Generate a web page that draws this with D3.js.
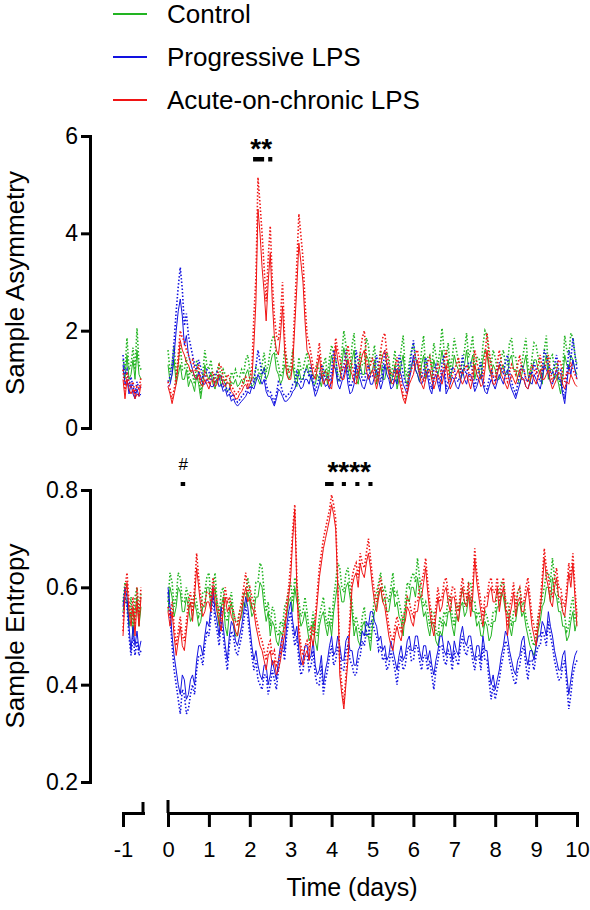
<!DOCTYPE html>
<html><head><meta charset="utf-8">
<script src="https://cdn.jsdelivr.net/npm/d3@7"></script>
<style>
body{margin:0;background:#fff}
svg{display:block}
text{font-family:"Liberation Sans",Arial,Helvetica,sans-serif;fill:#000}
</style>
</head><body>
<svg id="chart" width="590" height="910"></svg>
<script>
// ---------------- DATA ----------------
const seriesNames = ["Control", "Progressive LPS", "Acute-on-chronic LPS"];
const xTickLabels = ["-1","0","1","2","3","4","5","6","7","8","9","10"];
const baseStart = -1.0, baseStep = 0.05;   // baseline recording (day -1)
const mainStep = 0.05;                      // main recording, days 0..10

// Sample Asymmetry — baseline
const asymControlBase      = [1.2, 1.0, 1.5, 1.0, 1.1, 1.4, 1.0, 1.6, 1.1, 1.0];
const asymControlBaseSEM   = [0.2, 0.2, 0.35, 0.2, 0.2, 0.25, 0.2, 0.45, 0.2, 0.2];
const asymProgBase         = [1.3, 0.9, 1.0, 0.7, 0.9, 0.7, 0.6, 0.8, 0.65, 0.7];
const asymProgBaseSEM      = [0.2, 0.2, 0.2, 0.15, 0.15, 0.15, 0.1, 0.15, 0.15, 0.15];
const asymAcuteBase        = [1.0, 0.6, 1.0, 0.8, 0.7, 0.8, 0.6, 0.7, 0.65, 0.9];
const asymAcuteBaseSEM     = [0.2, 0.15, 0.15, 0.15, 0.15, 0.15, 0.1, 0.15, 0.15, 0.15];

// Sample Asymmetry — days 0..10 (one row per day)
const asymControl = [
 1.3,0.95,1.1,1.4,0.9,1.1,1.3,1.0,1.0,1.2,0.85,1.0,0.9,0.75,1.1,0.9,0.6,0.9,1.3,1.1,
 1.0,1.15,0.9,0.8,1.0,1.1,0.85,1.0,0.9,0.75,0.8,0.95,0.9,1.0,0.85,0.9,1.0,0.9,1.1,1.2,
 1.0,0.85,0.9,1.05,1.0,0.9,1.1,1.25,1.0,1.1,1.3,1.5,1.55,1.2,1.1,0.9,1.0,1.3,1.2,1.0,
 1.1,1.3,1.0,0.85,1.2,1.0,1.0,1.15,1.3,1.1,1.0,0.9,0.9,1.1,1.0,0.85,1.1,1.2,0.9,1.2,
 1.5,1.3,1.2,0.95,1.0,1.3,1.65,1.4,1.2,1.0,1.4,1.6,1.0,0.9,1.3,1.1,1.1,1.5,1.4,1.1,
 1.2,1.4,0.9,1.1,1.3,1.0,1.0,1.25,1.2,0.9,1.1,1.3,0.8,1.0,1.3,1.5,1.0,0.9,1.1,1.3,
 1.4,1.2,1.1,0.95,1.3,1.5,1.0,1.2,1.2,1.0,1.4,1.2,1.1,1.3,1.6,1.3,1.2,1.4,1.0,1.2,
 1.5,1.3,1.2,1.0,1.1,1.3,1.6,1.2,1.3,1.5,1.0,1.2,1.2,1.0,1.4,1.6,1.5,1.2,1.1,1.3,
 1.2,1.0,1.0,1.2,1.3,1.1,1.1,1.4,1.5,1.2,1.2,1.0,0.9,1.1,1.3,1.5,1.1,0.9,1.2,1.4,
 1.4,1.2,1.1,0.9,1.3,1.5,1.0,1.2,1.2,1.0,1.1,0.9,0.7,1.0,1.5,1.3,1.2,1.5,1.4,1.2,
 1.1];
const asymControlSEM = [
 0.3,0.2,0.2,0.3,0.15,0.2,0.4,0.2,0.2,0.25,0.15,0.2,0.2,0.15,0.3,0.2,0.1,0.2,0.3,0.2,
 0.2,0.25,0.15,0.15,0.2,0.2,0.15,0.2,0.2,0.15,0.1,0.2,0.15,0.2,0.2,0.15,0.2,0.2,0.3,0.3,
 0.2,0.15,0.15,0.2,0.2,0.15,0.2,0.3,0.15,0.2,0.3,0.35,0.35,0.25,0.2,0.15,0.15,0.3,0.25,0.2,
 0.2,0.3,0.15,0.15,0.25,0.2,0.2,0.25,0.25,0.2,0.15,0.15,0.15,0.2,0.2,0.15,0.2,0.25,0.15,0.25,
 0.2,0.25,0.2,0.15,0.15,0.25,0.35,0.3,0.2,0.15,0.3,0.35,0.15,0.15,0.25,0.2,0.2,0.35,0.3,0.2,
 0.25,0.3,0.15,0.2,0.3,0.2,0.2,0.3,0.25,0.15,0.2,0.3,0.15,0.2,0.3,0.4,0.2,0.15,0.25,0.3,
 0.3,0.25,0.2,0.15,0.3,0.4,0.2,0.25,0.3,0.2,0.35,0.3,0.2,0.3,0.45,0.3,0.25,0.35,0.2,0.25,
 0.35,0.3,0.2,0.15,0.25,0.3,0.35,0.25,0.3,0.4,0.2,0.25,0.25,0.2,0.3,0.4,0.4,0.25,0.2,0.3,
 0.25,0.2,0.2,0.25,0.3,0.2,0.2,0.35,0.35,0.25,0.25,0.2,0.15,0.2,0.3,0.35,0.2,0.15,0.25,0.35,
 0.3,0.25,0.2,0.15,0.3,0.4,0.2,0.25,0.3,0.2,0.25,0.2,0.15,0.2,0.4,0.3,0.3,0.45,0.45,0.3,
 0.2];
const asymProg = [
 0.85,0.9,1.1,1.5,2.0,2.4,2.65,2.3,1.7,1.9,1.5,1.35,1.2,1.05,1.0,1.15,1.05,0.9,0.9,1.0,
 0.95,0.85,0.85,0.95,1.0,0.85,0.9,0.75,0.8,0.65,0.7,0.55,0.6,0.5,0.45,0.5,0.55,0.6,0.65,0.75,
 0.7,0.85,0.8,0.95,1.1,1.0,0.9,1.0,0.75,0.65,0.65,0.55,0.45,0.6,0.8,0.75,0.65,0.55,0.55,0.6,
 0.65,0.75,0.8,0.95,0.9,0.8,0.85,1.0,1.0,0.9,1.1,0.85,0.65,0.75,0.9,1.1,1.0,0.85,0.9,0.8,
 1.0,1.3,1.2,0.9,0.8,0.95,1.1,1.3,0.9,0.7,0.75,0.9,1.3,1.1,1.0,0.85,0.8,0.95,1.1,0.9,
 0.9,1.05,1.2,1.0,0.8,0.95,1.3,1.1,1.0,0.8,0.85,1.0,0.9,1.2,1.1,0.9,0.8,0.7,1.0,1.2,
 1.5,1.2,1.1,0.95,0.9,1.0,1.2,1.05,0.8,0.7,1.0,1.1,0.9,0.75,1.1,1.2,0.7,0.8,0.9,1.05,
 1.0,0.85,0.8,0.95,1.2,1.0,0.9,1.1,1.1,0.95,0.75,0.85,1.0,1.1,0.9,0.75,0.7,0.85,1.0,0.9,
 0.8,0.95,1.1,1.0,0.9,1.1,1.2,0.95,0.8,0.7,0.6,0.75,0.9,1.05,1.0,0.85,0.8,0.95,0.9,1.1,
 1.0,0.9,0.8,1.0,1.3,1.2,1.1,0.95,0.9,1.05,1.2,1.0,1.0,0.7,0.5,0.9,1.3,1.1,1.4,1.2,
 1.0];
const asymProgSEM = [
 0.1,0.15,0.2,0.3,0.4,0.5,0.65,0.55,0.4,0.45,0.4,0.35,0.3,0.25,0.2,0.25,0.2,0.15,0.15,0.2,
 0.2,0.15,0.15,0.15,0.15,0.15,0.15,0.1,0.1,0.1,0.1,0.08,0.1,0.08,0.08,0.08,0.1,0.1,0.1,0.1,
 0.1,0.15,0.15,0.3,0.5,0.35,0.2,0.2,0.15,0.1,0.1,0.08,0.08,0.1,0.15,0.15,0.1,0.1,0.1,0.1,
 0.1,0.15,0.15,0.2,0.15,0.15,0.15,0.2,0.2,0.15,0.2,0.15,0.1,0.15,0.15,0.2,0.2,0.15,0.15,0.15,
 0.2,0.3,0.25,0.15,0.15,0.2,0.2,0.3,0.2,0.15,0.15,0.2,0.3,0.25,0.2,0.15,0.15,0.2,0.2,0.15,
 0.15,0.2,0.3,0.2,0.15,0.2,0.3,0.25,0.2,0.15,0.15,0.2,0.2,0.3,0.25,0.2,0.15,0.1,0.2,0.3,
 0.3,0.25,0.2,0.15,0.15,0.2,0.25,0.2,0.15,0.1,0.2,0.2,0.15,0.1,0.25,0.3,0.1,0.15,0.2,0.2,
 0.2,0.15,0.15,0.2,0.3,0.2,0.2,0.25,0.25,0.2,0.1,0.15,0.2,0.25,0.15,0.1,0.1,0.15,0.2,0.15,
 0.15,0.2,0.25,0.2,0.2,0.25,0.3,0.2,0.15,0.1,0.1,0.15,0.2,0.25,0.2,0.15,0.15,0.2,0.2,0.25,
 0.2,0.15,0.15,0.2,0.3,0.3,0.2,0.2,0.2,0.25,0.3,0.2,0.2,0.1,0.1,0.2,0.3,0.3,0.45,0.3,
 0.2];
const asymAcute = [
 0.85,0.7,0.5,0.7,0.9,1.3,1.8,1.6,1.5,1.35,1.3,1.15,1.2,1.05,1.0,1.1,0.9,0.85,1.0,0.9,
 0.8,0.95,1.0,0.85,0.9,1.1,1.05,0.9,0.85,0.95,0.9,0.75,0.7,0.6,0.6,0.7,0.75,0.85,0.9,0.8,
 0.9,1.0,1.7,2.6,4.5,4.0,3.3,2.8,2.2,3.0,3.6,2.6,1.9,1.6,1.5,1.9,2.5,1.6,1.1,1.0,
 1.0,1.3,2.1,2.9,3.8,3.4,3.0,2.2,1.6,1.5,1.3,1.1,1.0,1.2,1.5,1.1,0.9,1.0,1.0,0.85,
 0.8,1.2,1.7,1.4,1.2,1.0,1.0,1.2,1.4,1.2,1.1,0.95,0.9,1.1,1.3,1.5,1.6,1.2,1.0,1.1,
 1.2,1.0,0.8,1.0,1.3,1.5,1.6,1.3,1.1,0.95,0.9,1.05,1.2,1.0,0.8,0.6,0.5,0.7,0.9,1.0,
 1.1,1.3,1.4,1.1,0.9,0.8,1.0,1.15,1.2,1.0,0.8,0.95,1.1,1.0,0.9,1.1,1.3,1.0,0.8,0.9,
 1.0,1.1,1.2,1.0,0.9,1.0,1.1,0.95,0.8,1.0,1.3,1.1,1.0,0.85,0.9,1.2,1.6,1.3,1.1,0.9,
 0.9,1.1,1.3,1.1,1.0,0.9,0.8,0.95,1.1,1.0,0.9,1.05,1.2,1.0,1.0,0.85,0.8,0.95,1.1,1.0,
 0.9,1.05,1.2,1.0,1.0,1.1,1.2,0.95,0.8,0.9,1.0,1.15,1.1,0.9,0.8,0.95,0.9,1.1,1.0,0.9,
 0.85];
const asymAcuteSEM = [
 0.1,0.1,0.1,0.1,0.15,0.2,0.2,0.25,0.3,0.25,0.2,0.2,0.2,0.15,0.15,0.2,0.1,0.1,0.15,0.15,
 0.1,0.15,0.15,0.1,0.1,0.2,0.2,0.15,0.1,0.15,0.15,0.1,0.1,0.1,0.1,0.1,0.1,0.15,0.15,0.1,
 0.15,0.2,0.6,0.5,0.65,0.6,0.7,0.5,0.4,0.5,0.55,0.45,0.4,0.3,0.3,0.35,0.5,0.3,0.2,0.15,
 0.15,0.2,0.4,0.5,0.6,0.55,0.5,0.4,0.3,0.25,0.2,0.15,0.15,0.2,0.25,0.2,0.15,0.15,0.15,0.1,
 0.1,0.15,0.15,0.2,0.25,0.2,0.2,0.25,0.3,0.2,0.2,0.15,0.15,0.2,0.25,0.35,0.4,0.25,0.2,0.2,
 0.25,0.2,0.15,0.2,0.3,0.35,0.35,0.25,0.2,0.15,0.2,0.2,0.25,0.2,0.15,0.1,0.1,0.15,0.2,0.2,
 0.2,0.25,0.2,0.2,0.2,0.15,0.2,0.2,0.25,0.2,0.15,0.2,0.2,0.2,0.2,0.25,0.3,0.2,0.15,0.2,
 0.2,0.2,0.25,0.2,0.2,0.2,0.2,0.2,0.15,0.2,0.3,0.25,0.2,0.15,0.2,0.3,0.35,0.3,0.2,0.15,
 0.15,0.2,0.3,0.25,0.2,0.15,0.15,0.2,0.2,0.2,0.2,0.25,0.3,0.2,0.2,0.15,0.15,0.2,0.2,0.2,
 0.2,0.25,0.3,0.2,0.2,0.25,0.3,0.2,0.15,0.2,0.2,0.25,0.25,0.2,0.15,0.2,0.2,0.25,0.2,0.2,
 0.15];

// Sample Entropy — baseline
const entControlBase    = [0.55,0.58,0.57,0.52,0.55,0.5,0.55,0.58,0.52,0.56];
const entControlBaseSEM = [0.02,0.03,0.02,0.02,0.03,0.02,0.03,0.02,0.02,0.03];
const entProgBase       = [0.56,0.6,0.58,0.52,0.47,0.52,0.48,0.51,0.47,0.49];
const entProgBaseSEM    = [0.02,0.02,0.02,0.02,0.01,0.02,0.02,0.02,0.01,0.02];
const entAcuteBase      = [0.5,0.58,0.61,0.55,0.52,0.56,0.5,0.57,0.52,0.58];
const entAcuteBaseSEM   = [0.01,0.02,0.02,0.02,0.02,0.02,0.02,0.03,0.02,0.02];

// Sample Entropy — days 0..10 (one row per day)
const entControl = [
 0.55,0.6,0.58,0.54,0.56,0.6,0.59,0.55,0.55,0.58,0.56,0.53,0.54,0.57,0.55,0.52,0.53,0.56,0.56,0.6,
 0.6,0.56,0.58,0.6,0.55,0.52,0.56,0.58,0.52,0.5,0.55,0.57,0.53,0.5,0.5,0.53,0.54,0.57,0.56,0.59,
 0.57,0.54,0.55,0.58,0.58,0.61,0.6,0.56,0.53,0.55,0.5,0.53,0.52,0.49,0.48,0.51,0.5,0.53,0.54,0.57,
 0.58,0.55,0.6,0.57,0.55,0.52,0.53,0.55,0.52,0.49,0.5,0.53,0.49,0.47,0.52,0.54,0.55,0.52,0.5,0.53,
 0.5,0.55,0.58,0.61,0.6,0.57,0.57,0.6,0.61,0.58,0.55,0.5,0.52,0.49,0.48,0.52,0.53,0.5,0.5,0.47,
 0.52,0.55,0.56,0.59,0.6,0.57,0.58,0.55,0.55,0.58,0.6,0.56,0.57,0.54,0.53,0.5,0.55,0.58,0.57,0.6,
 0.6,0.58,0.62,0.59,0.57,0.54,0.55,0.52,0.5,0.53,0.52,0.49,0.48,0.51,0.5,0.53,0.52,0.55,0.55,0.52,
 0.5,0.54,0.53,0.56,0.57,0.54,0.55,0.58,0.58,0.55,0.55,0.52,0.53,0.5,0.5,0.53,0.52,0.49,0.5,0.53,
 0.53,0.56,0.56,0.59,0.58,0.55,0.55,0.52,0.5,0.53,0.53,0.56,0.57,0.54,0.55,0.52,0.5,0.48,0.47,0.46,
 0.48,0.51,0.53,0.56,0.57,0.6,0.6,0.57,0.62,0.59,0.58,0.55,0.55,0.52,0.52,0.49,0.5,0.53,0.55,0.51,
 0.53];
const entControlSEM = [
 0.02,0.03,0.03,0.02,0.02,0.03,0.03,0.02,0.02,0.02,0.02,0.03,0.03,0.02,0.02,0.02,0.02,0.03,0.03,0.02,
 0.03,0.02,0.02,0.03,0.02,0.02,0.03,0.02,0.02,0.03,0.02,0.02,0.02,0.03,0.03,0.02,0.02,0.02,0.02,0.03,
 0.02,0.02,0.02,0.03,0.03,0.04,0.04,0.03,0.02,0.02,0.02,0.03,0.03,0.02,0.02,0.02,0.02,0.03,0.03,0.02,
 0.03,0.02,0.02,0.03,0.02,0.02,0.02,0.03,0.03,0.02,0.02,0.02,0.02,0.03,0.02,0.02,0.03,0.02,0.02,0.03,
 0.02,0.03,0.03,0.04,0.04,0.03,0.02,0.03,0.03,0.02,0.02,0.02,0.02,0.03,0.02,0.02,0.03,0.02,0.02,0.02,
 0.02,0.03,0.03,0.02,0.03,0.02,0.02,0.03,0.02,0.02,0.03,0.02,0.02,0.03,0.02,0.02,0.02,0.03,0.03,0.02,
 0.03,0.03,0.04,0.03,0.02,0.02,0.02,0.03,0.02,0.02,0.03,0.02,0.02,0.03,0.02,0.02,0.02,0.03,0.03,0.02,
 0.02,0.03,0.02,0.02,0.03,0.02,0.02,0.03,0.03,0.02,0.02,0.02,0.02,0.03,0.02,0.02,0.02,0.03,0.02,0.02,
 0.02,0.03,0.03,0.02,0.03,0.02,0.02,0.03,0.02,0.02,0.02,0.03,0.03,0.02,0.02,0.02,0.02,0.03,0.02,0.02,
 0.02,0.03,0.02,0.02,0.03,0.03,0.03,0.04,0.04,0.03,0.03,0.02,0.02,0.03,0.02,0.02,0.02,0.03,0.03,0.02,
 0.02];
const entProg = [
 0.6,0.56,0.5,0.46,0.43,0.4,0.38,0.42,0.41,0.37,0.38,0.41,0.42,0.4,0.45,0.48,0.48,0.46,0.5,0.53,
 0.52,0.56,0.6,0.55,0.53,0.5,0.56,0.52,0.48,0.45,0.5,0.53,0.52,0.49,0.48,0.5,0.52,0.55,0.58,0.56,
 0.52,0.48,0.45,0.47,0.44,0.42,0.41,0.44,0.44,0.4,0.42,0.45,0.43,0.41,0.45,0.48,0.5,0.47,0.52,0.55,
 0.57,0.53,0.5,0.52,0.47,0.44,0.45,0.48,0.48,0.45,0.46,0.49,0.44,0.42,0.43,0.46,0.4,0.43,0.45,0.48,
 0.5,0.46,0.47,0.5,0.48,0.45,0.45,0.49,0.5,0.47,0.47,0.44,0.44,0.47,0.48,0.51,0.5,0.53,0.52,0.55,
 0.55,0.53,0.52,0.49,0.5,0.47,0.48,0.45,0.46,0.49,0.47,0.45,0.43,0.46,0.48,0.45,0.46,0.49,0.5,0.47,
 0.47,0.5,0.5,0.47,0.45,0.48,0.48,0.45,0.47,0.44,0.42,0.45,0.47,0.5,0.5,0.47,0.46,0.49,0.48,0.45,
 0.49,0.47,0.46,0.5,0.52,0.49,0.48,0.5,0.5,0.47,0.45,0.48,0.48,0.45,0.5,0.47,0.47,0.43,0.4,0.42,
 0.39,0.41,0.43,0.46,0.48,0.51,0.5,0.47,0.45,0.43,0.42,0.45,0.46,0.49,0.5,0.46,0.44,0.47,0.47,0.45,
 0.48,0.5,0.5,0.53,0.52,0.5,0.55,0.52,0.5,0.47,0.45,0.43,0.43,0.46,0.47,0.42,0.38,0.41,0.44,0.46,
 0.47];
const entProgSEM = [
 0.01,0.02,0.02,0.03,0.03,0.03,0.04,0.03,0.03,0.03,0.03,0.03,0.02,0.02,0.02,0.02,0.02,0.02,0.02,0.02,
 0.02,0.02,0.02,0.02,0.02,0.02,0.03,0.02,0.02,0.02,0.02,0.02,0.02,0.02,0.02,0.02,0.02,0.02,0.02,0.02,
 0.02,0.02,0.02,0.02,0.03,0.02,0.02,0.02,0.02,0.02,0.02,0.02,0.02,0.02,0.02,0.02,0.02,0.02,0.02,0.02,
 0.02,0.02,0.02,0.02,0.02,0.02,0.02,0.02,0.02,0.02,0.02,0.02,0.02,0.02,0.03,0.02,0.02,0.02,0.02,0.02,
 0.02,0.02,0.02,0.02,0.02,0.02,0.02,0.02,0.02,0.02,0.03,0.02,0.02,0.02,0.02,0.02,0.02,0.02,0.02,0.02,
 0.02,0.02,0.02,0.02,0.02,0.02,0.02,0.02,0.02,0.02,0.02,0.02,0.03,0.02,0.02,0.02,0.02,0.02,0.02,0.02,
 0.02,0.02,0.02,0.02,0.02,0.02,0.02,0.02,0.02,0.02,0.03,0.02,0.02,0.02,0.02,0.02,0.02,0.02,0.02,0.02,
 0.02,0.02,0.02,0.02,0.02,0.02,0.02,0.02,0.02,0.02,0.02,0.02,0.02,0.02,0.02,0.02,0.02,0.02,0.03,0.02,
 0.02,0.02,0.02,0.02,0.02,0.02,0.02,0.02,0.02,0.02,0.02,0.02,0.02,0.02,0.02,0.02,0.03,0.02,0.02,0.02,
 0.02,0.02,0.02,0.02,0.02,0.02,0.02,0.02,0.02,0.02,0.02,0.02,0.02,0.02,0.02,0.02,0.03,0.03,0.02,0.02,
 0.02];
const entAcute = [
 0.55,0.52,0.55,0.5,0.46,0.49,0.52,0.48,0.47,0.51,0.55,0.57,0.53,0.58,0.64,0.6,0.56,0.54,0.55,0.57,
 0.57,0.55,0.6,0.57,0.55,0.53,0.51,0.55,0.58,0.55,0.56,0.54,0.53,0.51,0.5,0.53,0.55,0.58,0.6,0.57,
 0.58,0.56,0.55,0.52,0.5,0.48,0.47,0.45,0.43,0.46,0.47,0.44,0.45,0.42,0.43,0.45,0.48,0.5,0.55,0.58,
 0.62,0.7,0.76,0.6,0.5,0.46,0.44,0.46,0.47,0.45,0.5,0.48,0.52,0.57,0.62,0.65,0.68,0.7,0.72,0.74,
 0.77,0.75,0.72,0.6,0.42,0.38,0.35,0.4,0.45,0.52,0.6,0.62,0.63,0.6,0.65,0.63,0.62,0.65,0.67,0.64,
 0.6,0.57,0.55,0.58,0.6,0.57,0.56,0.53,0.5,0.48,0.47,0.5,0.52,0.5,0.49,0.52,0.53,0.56,0.55,0.53,
 0.52,0.55,0.55,0.58,0.58,0.61,0.64,0.59,0.55,0.52,0.5,0.54,0.58,0.55,0.56,0.59,0.6,0.57,0.55,0.58,
 0.58,0.55,0.53,0.57,0.6,0.57,0.56,0.59,0.54,0.58,0.66,0.61,0.58,0.55,0.52,0.56,0.56,0.59,0.6,0.57,
 0.57,0.6,0.55,0.58,0.6,0.56,0.5,0.54,0.56,0.59,0.54,0.57,0.58,0.55,0.55,0.58,0.6,0.56,0.52,0.5,
 0.48,0.52,0.55,0.6,0.66,0.62,0.6,0.57,0.56,0.6,0.62,0.58,0.58,0.55,0.54,0.58,0.63,0.6,0.65,0.58,
 0.52];
const entAcuteSEM = [
 0.01,0.02,0.02,0.02,0.02,0.02,0.02,0.02,0.02,0.02,0.02,0.02,0.02,0.02,0.03,0.02,0.02,0.02,0.02,0.02,
 0.02,0.02,0.02,0.02,0.02,0.02,0.02,0.02,0.02,0.02,0.02,0.02,0.02,0.02,0.02,0.02,0.02,0.02,0.03,0.02,
 0.02,0.02,0.02,0.02,0.02,0.02,0.02,0.02,0.02,0.02,0.02,0.02,0.02,0.02,0.02,0.02,0.02,0.02,0.02,0.02,
 0.03,0.02,0.01,0.02,0.02,0.02,0.02,0.02,0.02,0.02,0.02,0.02,0.02,0.02,0.02,0.02,0.02,0.02,0.02,0.02,
 0.02,0.02,0.02,0.02,0.02,0.02,0.01,0.02,0.02,0.02,0.02,0.02,0.02,0.02,0.02,0.02,0.02,0.02,0.03,0.02,
 0.02,0.02,0.02,0.02,0.02,0.02,0.02,0.02,0.02,0.02,0.02,0.02,0.02,0.02,0.02,0.02,0.02,0.02,0.02,0.02,
 0.02,0.02,0.02,0.02,0.03,0.02,0.02,0.02,0.02,0.02,0.02,0.02,0.02,0.02,0.02,0.02,0.02,0.02,0.02,0.02,
 0.02,0.02,0.02,0.02,0.02,0.02,0.02,0.02,0.02,0.02,0.02,0.02,0.02,0.02,0.02,0.02,0.02,0.02,0.02,0.02,
 0.02,0.02,0.02,0.02,0.02,0.02,0.02,0.02,0.02,0.02,0.02,0.02,0.02,0.02,0.02,0.02,0.02,0.02,0.02,0.02,
 0.02,0.02,0.02,0.02,0.02,0.02,0.02,0.02,0.02,0.02,0.02,0.02,0.02,0.02,0.02,0.02,0.02,0.02,0.02,0.02,
 0.02];

// significance annotations (day positions)
const asymSigLabels = [{text:"**", day:2.28, bold:true}];
const asymSigBars   = [[2.08,2.35],[2.45,2.55]];
const entSigLabels  = [{text:"#", day:0.37, bold:false}, {text:"****", day:4.43, bold:true}];
const entSigBars    = [[0.31,0.42],[3.84,4.05],[4.25,4.35],[4.58,4.68],[4.9,5.0]];

// ---------------- DRAWING ----------------
const colors = ["#22b422", "#1212e0", "#f01414"];
const svg = d3.select("#chart");

const baseDays = asymControlBase.map((_, i) => baseStart + i * baseStep);
const mainDays = asymControl.map((_, i) => i * mainStep);

const xBase = d3.scaleLinear().domain([-1, -0.5]).range([123, 143]);
const xMain = d3.scaleLinear().domain([0, 10]).range([168, 577]);
const yAsym = d3.scaleLinear().domain([0, 6]).range([428, 136]);
const yEnt  = d3.scaleLinear().domain([0.2, 0.8]).range([782, 490]);

function drawPanel(y, base, baseSem, main, mainSem, signs) {
  const g = svg.append("g");
  [0, 1, 2].forEach(i => {
    const segs = [
      {x: xBase, days: baseDays, v: base[i], s: baseSem[i]},
      {x: xMain, days: mainDays, v: main[i], s: mainSem[i]}
    ];
    segs.forEach(seg => {
      const pts = seg.days.map((d, k) => ({d, v: seg.v[k], e: seg.v[k] + signs[i] * seg.s[k]}))
        .filter(p => Number.isFinite(p.v) && Number.isFinite(p.e));
      g.append("path")
        .attr("d", d3.line().x(p => seg.x(p.d)).y(p => y(p.e))(pts))
        .attr("fill", "none").attr("stroke", colors[i])
        .attr("stroke-width", 1.6).attr("stroke-dasharray", "1.5,2");
      g.append("path")
        .attr("d", d3.line().x(p => seg.x(p.d)).y(p => y(p.v))(pts))
        .attr("fill", "none").attr("stroke", colors[i])
        .attr("stroke-width", 1).attr("stroke-linejoin", "round");
    });
  });
}

drawPanel(yAsym,
  [asymControlBase, asymProgBase, asymAcuteBase],
  [asymControlBaseSEM, asymProgBaseSEM, asymAcuteBaseSEM],
  [asymControl, asymProg, asymAcute],
  [asymControlSEM, asymProgSEM, asymAcuteSEM],
  [1, 1, 1]);

drawPanel(yEnt,
  [entControlBase, entProgBase, entAcuteBase],
  [entControlBaseSEM, entProgBaseSEM, entAcuteBaseSEM],
  [entControl, entProg, entAcute],
  [entControlSEM, entProgSEM, entAcuteSEM],
  [1, -1, 1]);

// axes
function styleAxis(g, fs) {
  g.selectAll(".domain").attr("stroke", "#000").attr("stroke-width", 3).attr("stroke-linecap", "square");
  g.selectAll(".tick line").attr("stroke", "#000").attr("stroke-width", 3);
  g.selectAll(".tick text").attr("font-size", fs).attr("font-family", '"Liberation Sans", Arial, sans-serif').attr("fill", "#000");
}

const yAxisAsym = svg.append("g").attr("transform", "translate(90,0)")
  .call(d3.axisLeft(yAsym).tickValues([0, 2, 4, 6]).tickFormat(d3.format("d")).tickSize(9).tickSizeOuter(0).tickPadding(3));
styleAxis(yAxisAsym, 23);

const yAxisEnt = svg.append("g").attr("transform", "translate(90,0)")
  .call(d3.axisLeft(yEnt).tickValues([0.2, 0.4, 0.6, 0.8]).tickFormat(d3.format(".1f")).tickSize(9).tickSizeOuter(0).tickPadding(3));
styleAxis(yAxisEnt, 23);

const xAxisY = 813;
const xAxisMain = svg.append("g").attr("transform", `translate(0,${xAxisY})`)
  .call(d3.axisBottom(xMain).tickValues(d3.range(0, 11)).tickFormat((d, i) => xTickLabels[i + 1]).tickSize(14).tickSizeOuter(0).tickPadding(14));
styleAxis(xAxisMain, 22);
const xAxisBase = svg.append("g").attr("transform", `translate(0,${xAxisY})`)
  .call(d3.axisBottom(xBase).tickValues([-1]).tickFormat(() => xTickLabels[0]).tickSize(14).tickSizeOuter(0).tickPadding(14));
styleAxis(xAxisBase, 22);
// broken-axis caps
svg.append("line").attr("x1", xMain(0)).attr("x2", xMain(0)).attr("y1", xAxisY - 13).attr("y2", xAxisY)
  .attr("stroke", "#000").attr("stroke-width", 3);
svg.append("line").attr("x1", xBase(-0.5)).attr("x2", xBase(-0.5)).attr("y1", xAxisY - 11).attr("y2", xAxisY)
  .attr("stroke", "#000").attr("stroke-width", 3);

// axis titles
svg.append("text").attr("transform", "translate(24,283) rotate(-90)").attr("text-anchor", "middle")
  .attr("font-size", 26).text("Sample Asymmetry");
svg.append("text").attr("transform", "translate(24,636) rotate(-90)").attr("text-anchor", "middle")
  .attr("font-size", 26).text("Sample Entropy");
svg.append("text").attr("x", 352).attr("y", 896).attr("text-anchor", "middle")
  .attr("font-size", 25).text("Time (days)");

// legend
seriesNames.forEach((name, i) => {
  const ly = 14 + i * 43;
  svg.append("line").attr("x1", 113).attr("x2", 147).attr("y1", ly).attr("y2", ly)
    .attr("stroke", colors[i]).attr("stroke-width", 2);
  svg.append("text").attr("x", 167).attr("y", ly + 9).attr("font-size", 26).text(name);
});

// significance marks
asymSigLabels.forEach(s => {
  svg.append("text").attr("x", xMain(s.day)).attr("y", 158).attr("text-anchor", "middle")
    .attr("font-size", 28).attr("font-weight", "bold").text(s.text);
});
asymSigBars.forEach(b => {
  svg.append("rect").attr("x", xMain(b[0])).attr("width", xMain(b[1]) - xMain(b[0]))
    .attr("y", 157).attr("height", 4.5).attr("fill", "#000");
});
entSigLabels.forEach(s => {
  svg.append("text").attr("x", xMain(s.day)).attr("y", s.bold ? 481 : 470).attr("text-anchor", "middle")
    .attr("font-size", s.bold ? 28 : 17).attr("font-weight", s.bold ? "bold" : "normal").text(s.text);
});
entSigBars.forEach(b => {
  svg.append("rect").attr("x", xMain(b[0])).attr("width", xMain(b[1]) - xMain(b[0]))
    .attr("y", 482).attr("height", 4).attr("fill", "#000");
});
</script>
</body></html>
